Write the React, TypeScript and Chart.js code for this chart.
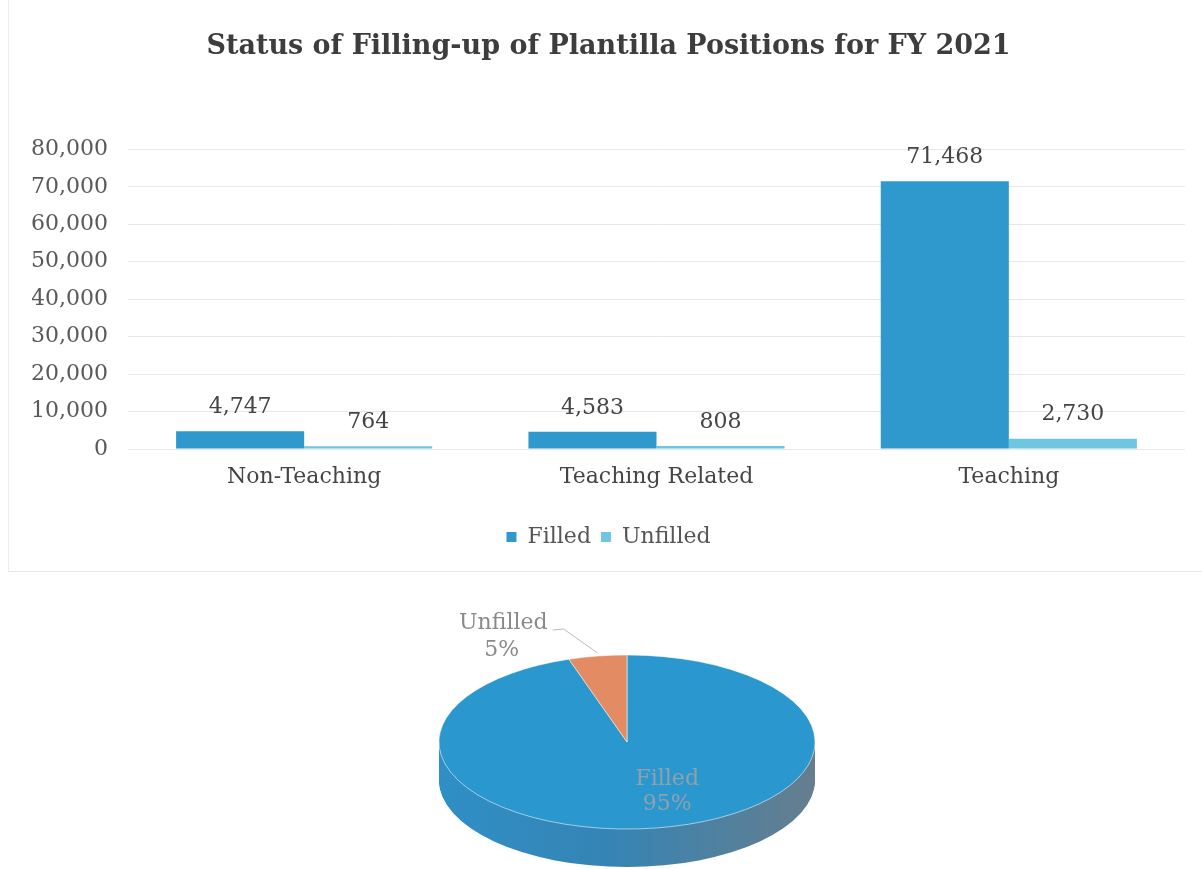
import React, { useEffect, useRef } from 'react';
import { Chart, registerables } from 'chart.js';

Chart.register(...registerables);

const titleText = 'Status of Filling-up of Plantilla Positions for FY 2021';
const categories = ['Non-Teaching', 'Teaching Related', 'Teaching'];
const filledValues = [4747, 4583, 71468];
const unfilledValues = [764, 808, 2730];
const seriesNames = ['Filled', 'Unfilled'];
const yMin = 0;
const yMax = 80000;
const yStep = 10000;

const pieLabels = ['Filled', 'Unfilled'];
const pieValues = [95, 5];

const FONT = "'DejaVu Serif', serif";
const FILLED_COLOR = '#2f98cc';
const UNFILLED_COLOR = '#6ec6e0';
const PIE_BLUE = '#2b97cf';
const PIE_ORANGE = '#e38b62';

const fmt = (v: number) => v.toLocaleString('en-US');

const barLabelPlugin = {
  id: 'barLabels',
  afterDatasetsDraw(chart: any) {
    const ctx = chart.ctx;
    ctx.save();
    ctx.font = `22px ${FONT}`;
    ctx.fillStyle = '#454545';
    ctx.textAlign = 'center';
    ctx.textBaseline = 'middle';
    chart.data.datasets.forEach((ds: any, di: number) => {
      const meta = chart.getDatasetMeta(di);
      meta.data.forEach((bar: any, i: number) => {
        ctx.fillText(fmt(ds.data[i]), bar.x, bar.y - 24);
      });
    });
    ctx.restore();
  },
};

const PIE_CX = 627;
const PIE_CY = 167;
const TILT = 0.463;
const DEPTH = 38;

const tiltPlugin = {
  id: 'tilt3d',
  beforeDatasetsDraw(chart: any) {
    const ctx = chart.ctx;
    const meta = chart.getDatasetMeta(0);
    const a0 = meta.data[0];
    const cx = a0.x;
    const cy = a0.y;
    ctx.save();
    ctx.translate(PIE_CX, PIE_CY);
    ctx.scale(1, TILT);
    ctx.translate(-cx, -cy);
    const r = a0.outerRadius;
    const grad = ctx.createLinearGradient(cx - r, 0, cx + r, 0);
    grad.addColorStop(0, '#2f8fc6');
    grad.addColorStop(0.45, '#3584b4');
    grad.addColorStop(1, '#667e8e');
    const sideColors = [grad, '#b56a48'];
    for (let d = DEPTH; d >= 1; d--) {
      const off = d / TILT;
      meta.data.forEach((arc: any, i: number) => {
        ctx.beginPath();
        ctx.moveTo(arc.x, arc.y + off);
        ctx.arc(arc.x, arc.y + off, arc.outerRadius, arc.startAngle, arc.endAngle);
        ctx.closePath();
        ctx.fillStyle = sideColors[i];
        ctx.fill();
      });
    }
  },
  afterDatasetsDraw(chart: any) {
    const ctx = chart.ctx;
    ctx.restore();
    const meta = chart.getDatasetMeta(0);
    const total = pieValues.reduce((a, b) => a + b, 0);
    ctx.save();
    ctx.font = `22px ${FONT}`;
    ctx.textBaseline = 'middle';
    meta.data.forEach((arc: any, i: number) => {
      const mid = (arc.startAngle + arc.endAngle) / 2;
      const pct = Math.round((pieValues[i] / total) * 100) + '%';
      if (i === 0) {
        const rho = arc.outerRadius * 0.62;
        const X = PIE_CX + Math.cos(mid) * rho + 22;
        const Y = PIE_CY + Math.sin(mid) * rho * TILT;
        ctx.fillStyle = 'rgba(212,166,150,0.6)';
        ctx.textAlign = 'center';
        ctx.fillText(pieLabels[i], X, Y - 16);
        ctx.fillText(pct, X, Y + 9);
      } else {
        const PX = PIE_CX + Math.cos(mid) * arc.outerRadius;
        const PY = PIE_CY + Math.sin(mid) * arc.outerRadius * TILT;
        ctx.strokeStyle = '#bdbdbd';
        ctx.lineWidth = 1;
        ctx.beginPath();
        ctx.moveTo(PX, PY - 3);
        ctx.lineTo(PX - 34, PY - 27);
        ctx.lineTo(PX - 45, PY - 26);
        ctx.stroke();
        ctx.fillStyle = '#8a8a8a';
        ctx.textAlign = 'right';
        ctx.fillText(pieLabels[i], PX - 50, PY - 33);
        ctx.textAlign = 'center';
        ctx.fillText(pct, PX - 96, PY - 6);
      }
    });
    ctx.restore();
  },
};

export default function App() {
  const barRef = useRef<HTMLCanvasElement | null>(null);
  const pieRef = useRef<HTMLCanvasElement | null>(null);

  useEffect(() => {
    const bar = new Chart(barRef.current as HTMLCanvasElement, {
      type: 'bar',
      data: {
        labels: categories,
        datasets: [
          { label: seriesNames[0], data: filledValues, backgroundColor: FILLED_COLOR, categoryPercentage: 0.727, barPercentage: 1 },
          { label: seriesNames[1], data: unfilledValues, backgroundColor: UNFILLED_COLOR, categoryPercentage: 0.727, barPercentage: 1 },
        ],
      },
      options: {
        responsive: false,
        animation: false,
        devicePixelRatio: 1,
        events: [],
        layout: { padding: { left: 32, right: 17, top: 0, bottom: 17 } },
        plugins: {
          title: {
            display: true,
            text: titleText,
            color: '#3d3d3d',
            font: { family: FONT, size: 27, weight: 'bold', lineHeight: 1.2 },
            padding: { top: 31, bottom: 86 },
          },
          legend: {
            position: 'bottom',
            labels: {
              boxWidth: 10,
              boxHeight: 10,
              color: '#555555',
              font: { family: FONT, size: 22 },
              padding: 10,
            },
          },
          tooltip: { enabled: false },
        },
        scales: {
          x: {
            grid: { display: false },
            border: { display: false },
            ticks: { color: '#454545', font: { family: FONT, size: 22 }, padding: 7 },
            afterFit: (s: any) => { s.height = 67; },
          },
          y: {
            min: yMin,
            max: yMax,
            grid: { color: '#e8e8e8', drawTicks: false },
            border: { display: false },
            ticks: {
              stepSize: yStep,
              color: '#595959',
              font: { family: FONT, size: 22 },
              padding: 20,
              callback: (v: any) => fmt(Number(v)),
            },
            afterFit: (s: any) => { s.width = 96; },
          },
        },
      },
      plugins: [barLabelPlugin],
    } as any);

    const pie = new Chart(pieRef.current as HTMLCanvasElement, {
      type: 'pie',
      data: {
        labels: pieLabels,
        datasets: [
          {
            data: pieValues,
            backgroundColor: [PIE_BLUE, PIE_ORANGE],
            borderColor: 'rgba(255,255,255,0.75)',
            borderWidth: 1,
            clip: false,
          },
        ],
      },
      options: {
        responsive: false,
        animation: false,
        devicePixelRatio: 1,
        events: [],
        radius: 188,
        layout: { padding: 0 },
        plugins: { legend: { display: false }, tooltip: { enabled: false }, title: { display: false } },
      },
      plugins: [tiltPlugin],
    } as any);

    return () => {
      bar.destroy();
      pie.destroy();
    };
  }, []);

  return (
    <div style={{ position: 'fixed', left: 0, top: 0, width: 1202, height: 869, overflow: 'hidden', background: '#ffffff' }}>
      <div
        style={{
          position: 'absolute',
          left: 8,
          top: -2,
          width: 1200,
          height: 574,
          borderLeft: '1px solid #ececec',
          borderBottom: '1px solid #e6e6e6',
          boxSizing: 'border-box',
        }}
      />
      <canvas ref={barRef} width={1202} height={575} style={{ position: 'absolute', left: 0, top: 0 }} />
      <div style={{ position: 'absolute', left: 0, top: 575, width: 1202, height: 294, overflow: 'hidden' }}>
        <canvas ref={pieRef} width={1202} height={400} style={{ position: 'absolute', left: 0, top: 0 }} />
      </div>
    </div>
  );
}
